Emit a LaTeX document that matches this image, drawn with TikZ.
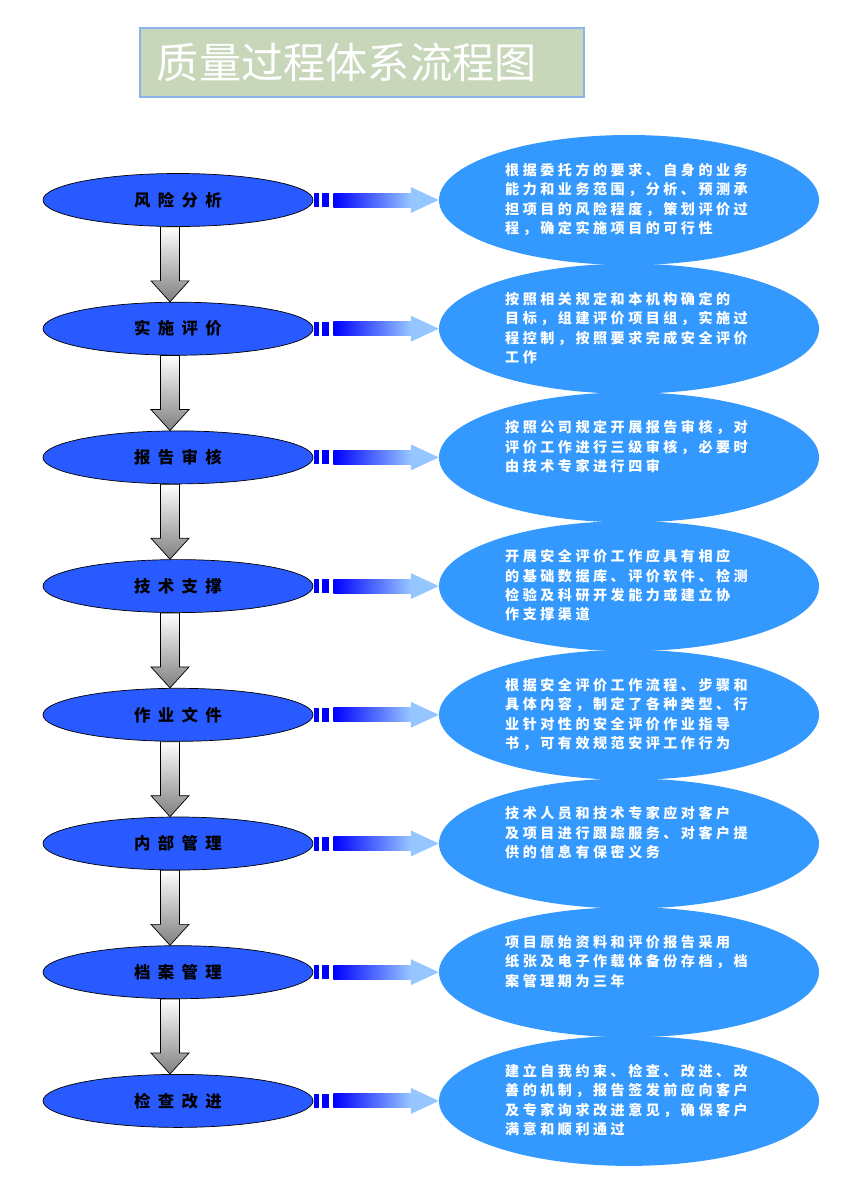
\documentclass[tikz,border=0pt]{standalone}
\usepackage{fontspec}
\usepackage{tikz}
\usetikzlibrary{calc,shapes.geometric}

\newfontfamily\cjk{Noto Sans CJK SC}
\newfontfamily\cjkwide[LetterSpace=25]{Noto Sans CJK SC}
\newfontfamily\cjklabel[LetterSpace=45]{Noto Sans CJK SC}

\definecolor{stepblue}{RGB}{40,90,255}
\definecolor{noteblue}{RGB}{51,153,255}
\definecolor{arrowlight}{RGB}{150,198,255}
\definecolor{titlegreen}{RGB}{200,214,186}
\definecolor{titleedge}{RGB}{140,180,235}

\begin{document}
\begin{tikzpicture}[x=0.3mm, y=-0.3mm,
    titlebox/.style={rectangle, fill=titlegreen, draw=titleedge, line width=1pt,
      minimum width=133.2mm, minimum height=20.7mm, text width=123mm, inner xsep=5.1mm,
      align=left, text=white, font=\cjk\fontsize{36pt}{40pt}\selectfont},
    stepnode/.style={ellipse, draw=black, line width=0.6pt, fill=stepblue,
      minimum width=81mm, minimum height=15.9mm, inner sep=0pt,
      font=\cjklabel\bfseries\fontsize{14pt}{16pt}\selectfont},
    notenode/.style={ellipse, fill=noteblue, minimum width=114mm, minimum height=39mm, inner sep=0pt},
    notetext/.style={anchor=north west, inner sep=0pt, align=left, text=white,
      font=\cjkwide\bfseries\fontsize{12pt}{16.6pt}\selectfont},
    downarrow/.style={draw=black, line width=0.6pt, top color=white, bottom color=black!50},
  ]
    \fill[white] (0,0) rectangle (853,1200);
    \useasboundingbox (0,0) rectangle (853,1200);

    % Title
    \node[titlebox] (title) at (362,62.5) {质量过程体系流程图};

    % Right notes (drawn first, they overlap slightly)
    \node[notenode] (n1) at (629,200) {};
    \node[notenode] (n2) at (629,328.7) {};
    \node[notenode] (n3) at (629,457.4) {};
    \node[notenode] (n4) at (629,586.1) {};
    \node[notenode] (n5) at (629,714.8) {};
    \node[notenode] (n6) at (629,843.5) {};
    \node[notenode] (n7) at (629,972.2) {};
    \node[notenode] (n8) at (629,1100.9) {};

    \node[notetext] (t1) at ($(n1.center)+(-124,-37)$) {根据委托方的要求、自身的业务\\能力和业务范围，分析、预测承\\担项目的风险程度，策划评价过\\程，确定实施项目的可行性};
    \node[notetext] (t2) at ($(n2.center)+(-124,-37)$) {按照相关规定和本机构确定的\\目标，组建评价项目组，实施过\\程控制，按照要求完成安全评价\\工作};
    \node[notetext] (t3) at ($(n3.center)+(-124,-37)$) {按照公司规定开展报告审核，对\\评价工作进行三级审核，必要时\\由技术专家进行四审};
    \node[notetext] (t4) at ($(n4.center)+(-124,-37)$) {开展安全评价工作应具有相应\\的基础数据库、评价软件、检测\\检验及科研开发能力或建立协\\作支撑渠道};
    \node[notetext] (t5) at ($(n5.center)+(-124,-37)$) {根据安全评价工作流程、步骤和\\具体内容，制定了各种类型、行\\业针对性的安全评价作业指导\\书，可有效规范安评工作行为};
    \node[notetext] (t6) at ($(n6.center)+(-124,-37)$) {技术人员和技术专家应对客户\\及项目进行跟踪服务、对客户提\\供的信息有保密义务};
    \node[notetext] (t7) at ($(n7.center)+(-124,-37)$) {项目原始资料和评价报告采用\\纸张及电子作载体备份存档，档\\案管理期为三年};
    \node[notetext] (t8) at ($(n8.center)+(-124,-37)$) {建立自我约束、检查、改进、改\\善的机制，报告签发前应向客户\\及专家询求改进意见，确保客户\\满意和顺利通过};

    % Process steps
    \node[stepnode] (s1) at (178,200) {风险分析};
    \node[stepnode] (s2) at (178,328.7) {实施评价};
    \node[stepnode] (s3) at (178,457.4) {报告审核};
    \node[stepnode] (s4) at (178,586.1) {技术支撑};
    \node[stepnode] (s5) at (178,714.8) {作业文件};
    \node[stepnode] (s6) at (178,843.5) {内部管理};
    \node[stepnode] (s7) at (178,972.2) {档案管理};
    \node[stepnode] (s8) at (178,1100.9) {检查改进};

    % Fat arrows between the steps
    \foreach \i/\j in {1/2,2/3,3/4,4/5,5/6,6/7,7/8} {
      \coordinate (top) at ($(s\i.south)+(-8,0)$);
      \coordinate (tip) at ($(s\j.north)+(-8,0)$);
      \draw[downarrow] ($(top)+(-9.5,0)$) -- ($(top)+(9.5,0)$) -- ($(tip)+(9.5,-21)$)
        -- ($(tip)+(19,-21)$) -- (tip) -- ($(tip)+(-19,-21)$) -- ($(tip)+(-9.5,-21)$) -- cycle;
    }

    % Arrows from the steps to the notes
    \foreach \i in {1,...,8} {
      \coordinate (from) at (s\i.east);
      \fill[blue] ($(from)+(1,-7)$) rectangle ($(from)+(6,7)$);
      \fill[blue] ($(from)+(9,-7)$) rectangle ($(from)+(16,7)$);
      \path[left color=blue, right color=arrowlight] ($(from)+(20,-7)$) rectangle ($(n\i.west)+(-28,7)$);
      \fill[arrowlight] ($(n\i.west)+(-28,-13)$) -- (n\i.west) -- ($(n\i.west)+(-28,13)$) -- cycle;
    }
\end{tikzpicture}
\end{document}
